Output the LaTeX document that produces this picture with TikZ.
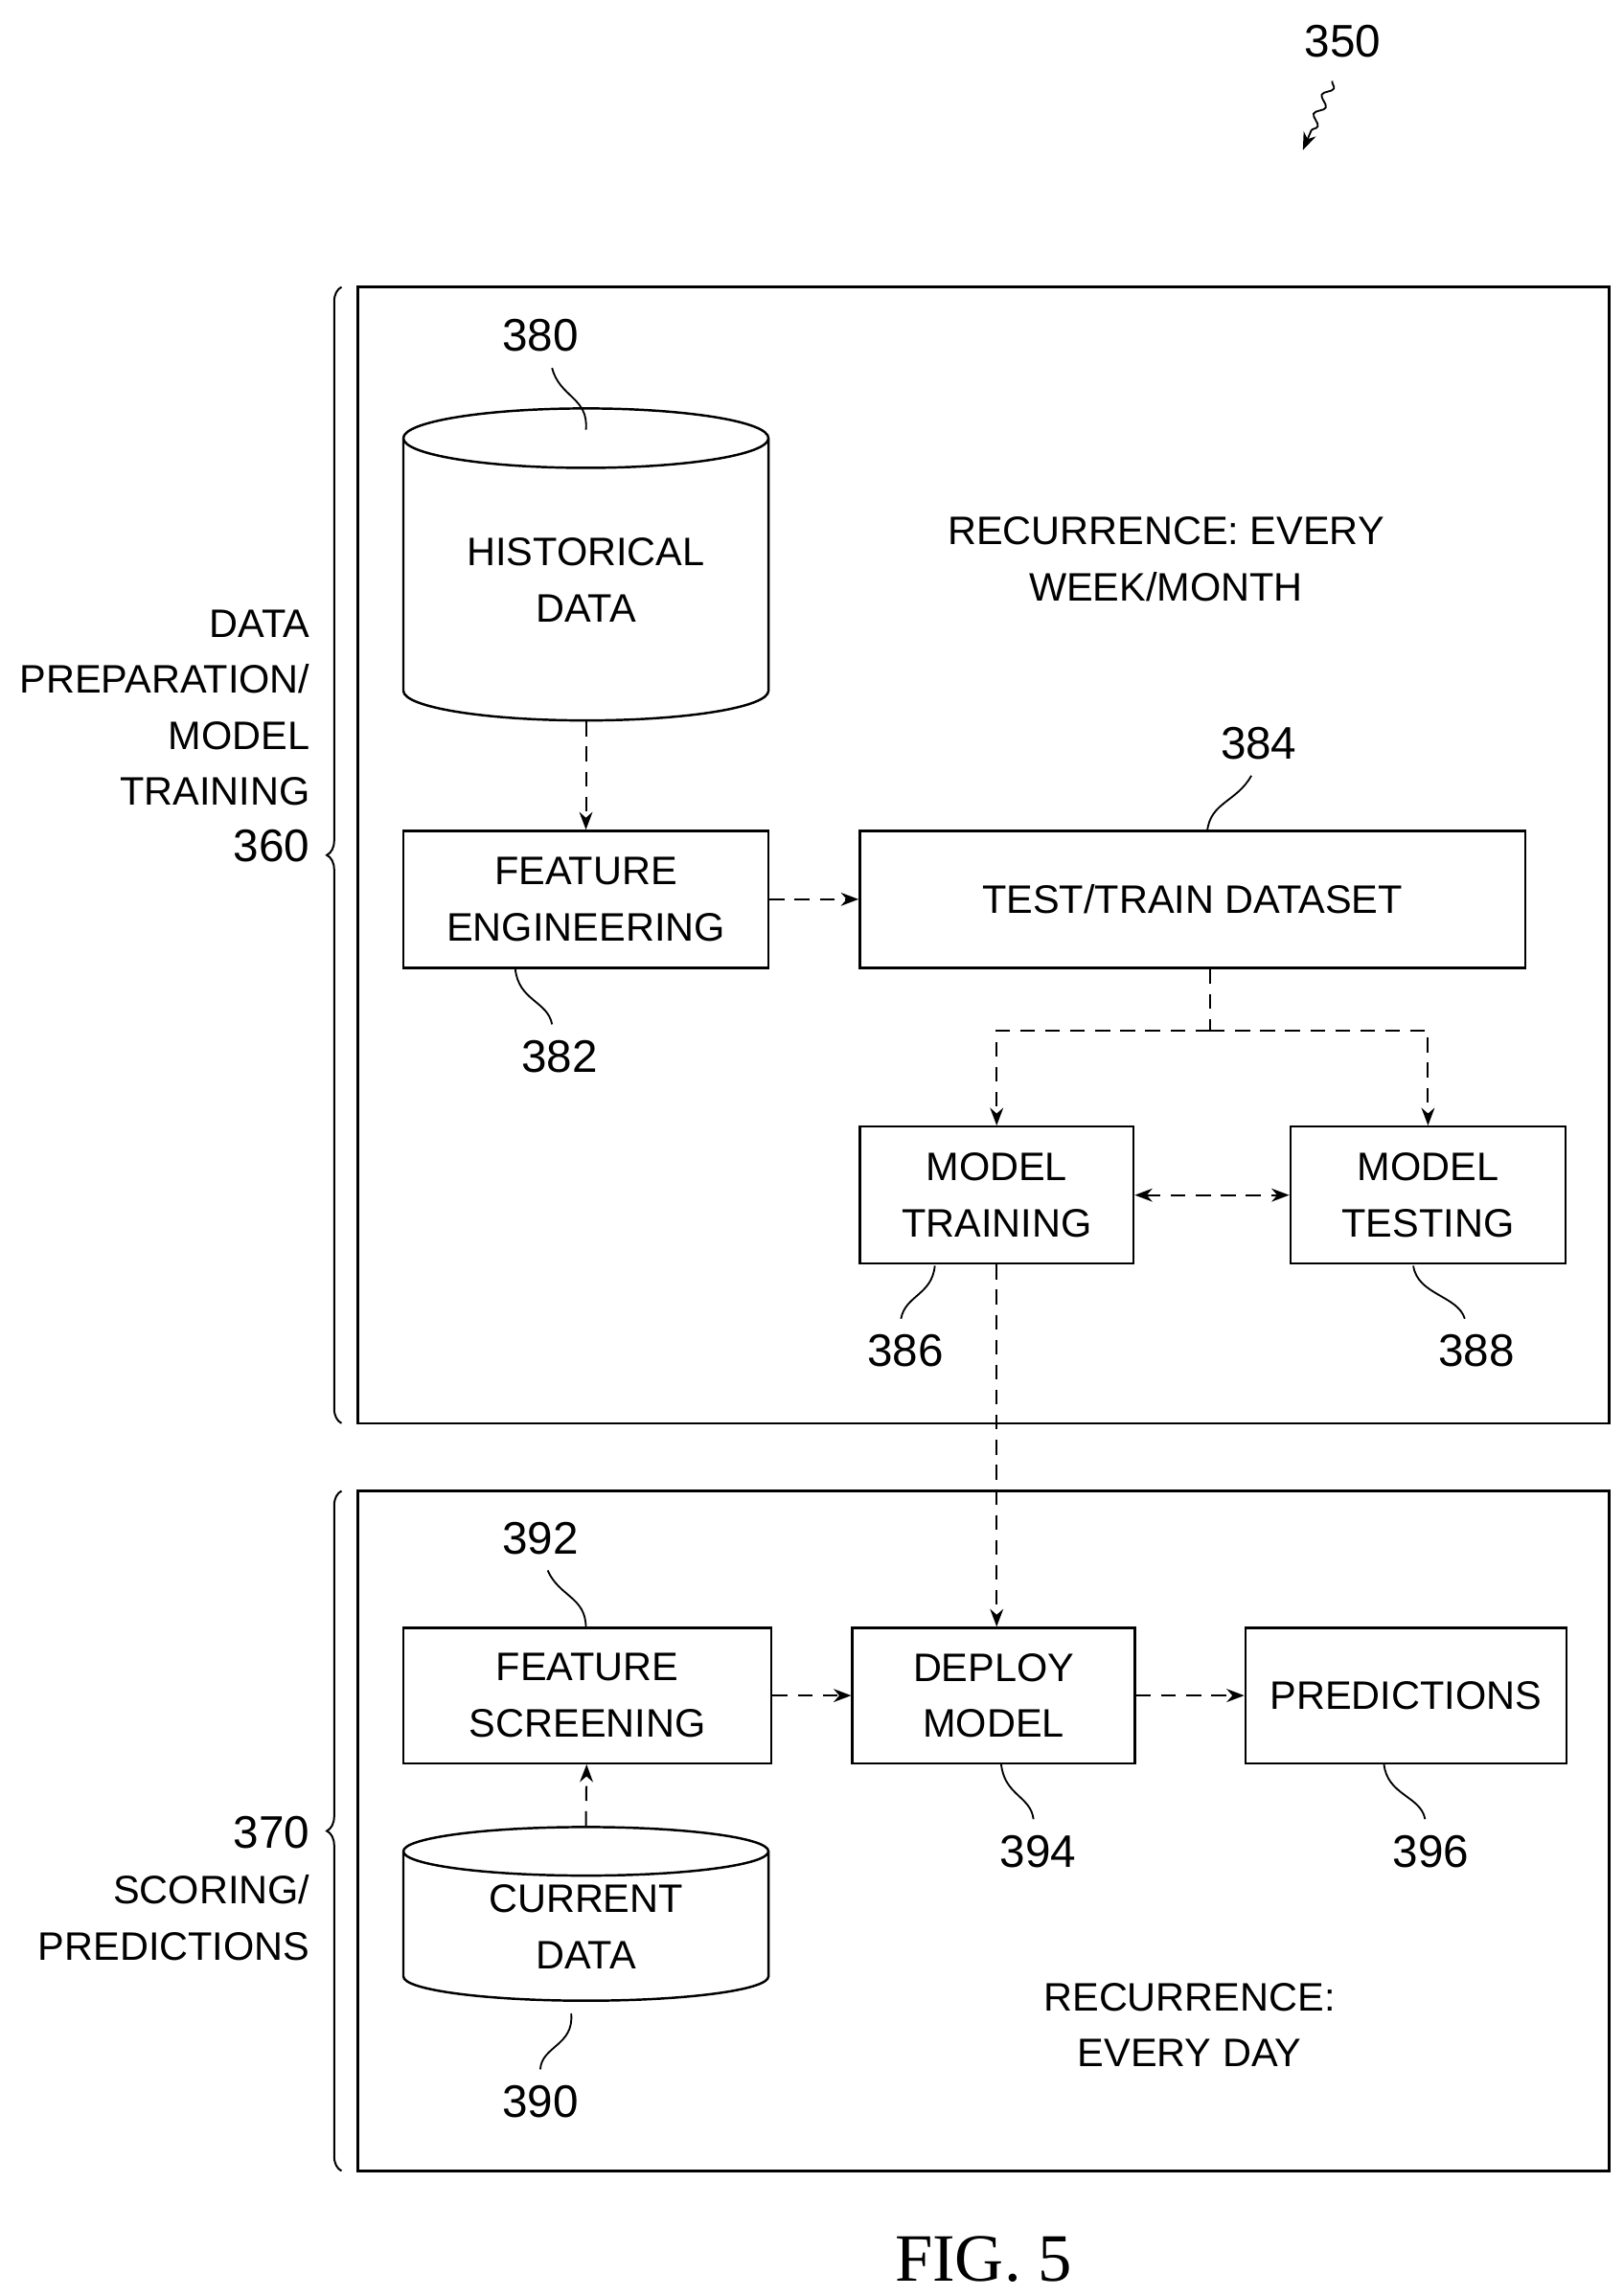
\documentclass[tikz,border=0pt]{standalone}
\usepackage{fontspec}
\setmainfont{Liberation Sans}
\newfontfamily\figfont{Liberation Serif}
\usetikzlibrary{shapes.geometric,arrows.meta,decorations.pathreplacing,decorations.pathmorphing}
\begin{document}
\begin{tikzpicture}[x=1pt,y=-1pt,
  every node/.style={font=\fontsize{27}{38}\selectfont,align=center},
  box/.style={draw,line width=1.6pt,inner sep=0pt},
  cyl/.style={draw,line width=1.6pt,cylinder,shape border rotate=90,aspect=0.25,inner sep=0pt},
  ar/.style={dash pattern=on 10pt off 7pt,line width=1.3pt,-{Stealth[length=12pt,width=9pt]}},
  lead/.style={line width=1.2pt},
  lbl/.style={font=\fontsize{31}{38}\selectfont}]
\useasboundingbox (0,0) rectangle (1103,1560);
\draw[line width=1.6pt] (243,195) rectangle (1093,967);
\draw[line width=1.6pt] (243,1013) rectangle (1093,1475);
\draw[line width=1.3pt,decorate,decoration={brace,amplitude=10pt,aspect=0.5}] (232,967) -- (232,195);
\draw[line width=1.3pt,decorate,decoration={brace,amplitude=10pt,aspect=0.5}] (232,1475) -- (232,1013);
\node[cyl,minimum width=248pt,minimum height=212pt] (hist) at (398,394) {HISTORICAL\\DATA};
\node[box,minimum width=248pt,minimum height=93pt] (fe) at (398,611) {FEATURE\\ENGINEERING};
\node[box,minimum width=452pt,minimum height=93pt] (tt) at (810,611) {TEST/TRAIN DATASET};
\node[box,minimum width=186pt,minimum height=93pt] (mt) at (677,812) {MODEL\\TRAINING};
\node[box,minimum width=187pt,minimum height=93pt] (mte) at (970,812) {MODEL\\TESTING};
\node[box,minimum width=250pt,minimum height=92pt] (fs) at (399,1152) {FEATURE\\SCREENING};
\node[box,minimum width=192pt,minimum height=92pt] (dm) at (675,1152) {DEPLOY\\MODEL};
\node[box,minimum width=218pt,minimum height=92pt] (pr) at (955,1152) {PREDICTIONS};
\node[cyl,minimum width=248pt,minimum height=118pt] (cur) at (398,1309) {CURRENT\\DATA};
\node (r1) at (792,380) {RECURRENCE: EVERY\\WEEK/MONTH};
\node (r2) at (808,1376) {RECURRENCE:\\EVERY DAY};
\node[align=right,anchor=east] (l1) at (214,500) {DATA\\PREPARATION/\\MODEL\\TRAINING\\{\fontsize{31}{38}\selectfont 360}};
\node[align=right,anchor=east] (l2) at (214,1283) {{\fontsize{31}{38}\selectfont 370}\\SCORING/\\PREDICTIONS};
\node[font=\fontsize{46}{50}\selectfont\figfont] (fig) at (668,1535) {FIG. 5};
\draw[ar] (hist.bottom) -- (fe);
\draw[ar] (fe) -- (tt);
\coordinate (s) at (822,700);
\draw[dash pattern=on 10pt off 7pt,line width=1.3pt] (tt.south -| s) -- (s);
\draw[ar] (s) -| (mt.north);
\draw[ar] (s) -| (mte.north);
\draw[ar,{Stealth[length=12pt,width=9pt]}-{Stealth[length=12pt,width=9pt]}] (mt) -- (mte);
\draw[ar] (mt.south) -- (dm.north -| mt.south);
\draw[ar] (fs) -- (dm);
\draw[ar] (dm) -- (pr);
\draw[ar] (cur.top) -- (fs);
\node[lbl] (n380) at (367,228) {380};
\draw[lead] (375,250) .. controls (380,270) and (400,270) .. (398,292);
\node[lbl] (n384) at (855,505) {384};
\draw[lead] (850,527) .. controls (840,545) and (822,545) .. (820,565);
\node[lbl] (n382) at (380,718) {382};
\draw[lead] (350,658) .. controls (352,680) and (372,680) .. (375,696);
\node[lbl] (n386) at (615,918) {386};
\draw[lead] (635,860) .. controls (633,880) and (615,880) .. (612,896);
\node[lbl] (n388) at (1003,918) {388};
\draw[lead] (960,860) .. controls (963,880) and (990,880) .. (995,896);
\node[lbl] (n392) at (367,1045) {392};
\draw[lead] (372,1067) .. controls (380,1085) and (398,1085) .. (398,1106);
\node[lbl] (n394) at (705,1258) {394};
\draw[lead] (680,1198) .. controls (682,1220) and (700,1220) .. (702,1236);
\node[lbl] (n396) at (972,1258) {396};
\draw[lead] (940,1198) .. controls (942,1220) and (965,1220) .. (968,1236);
\node[lbl] (n390) at (367,1428) {390};
\draw[lead] (388,1368) .. controls (390,1390) and (368,1390) .. (367,1406);
\node[lbl] (n350) at (912,28) {350};
\coordinate (a350) at (885,102);
\draw[line width=1.2pt,decorate,decoration={snake,amplitude=3pt,segment length=14pt,post length=12pt},-{Stealth[length=12pt,width=9pt]}] (905,55) -- (a350);
\end{tikzpicture}
\end{document}
